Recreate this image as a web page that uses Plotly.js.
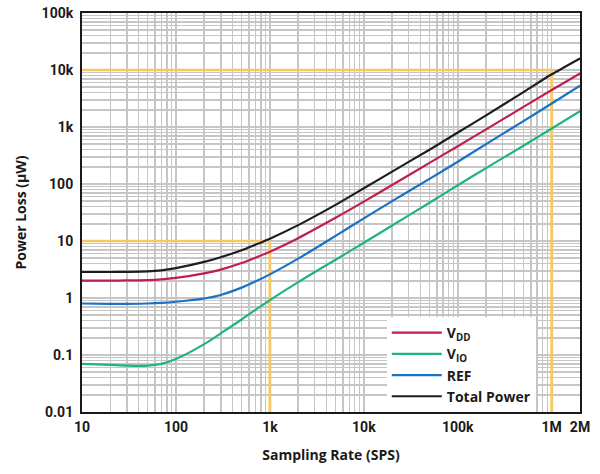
<!DOCTYPE html>
<html>
<head>
<meta charset="utf-8">
<script src="https://cdn.plot.ly/plotly-3.0.1.min.js"></script>
<style>
  html, body { margin: 0; padding: 0; background: #fff; }
  #chart { width: 600px; height: 474px; }
</style>
</head>
<body>
<div id="chart"></div>
<script>
// ------------------------------
// Sampling rates (SPS) and power loss (uW)
// ------------------------------
var rate = [10, 20, 30, 50, 70, 100, 200, 300, 500, 700, 1e3, 2e3, 5e3, 1e4, 2e4, 5e4, 1e5, 2e5, 5e5, 1e6, 2e6];

var vdd = [2.02, 2.02, 2.03, 2.06, 2.12, 2.25, 2.7, 3.15, 4.1, 5.1, 6.5, 11.2, 25.5, 49, 96, 235, 460, 910, 2250, 4450, 8700];
var vio = [0.070, 0.067, 0.065, 0.065, 0.070, 0.085, 0.155, 0.24, 0.42, 0.62, 0.92, 1.9, 4.7, 9.3, 18.7, 47, 95, 190, 470, 940, 1900];
var ref = [0.80, 0.79, 0.79, 0.80, 0.82, 0.86, 0.98, 1.13, 1.52, 1.94, 2.6, 4.9, 12.3, 25, 50, 123, 246, 500, 1270, 2580, 5300];
var total = [2.86, 2.86, 2.87, 2.92, 3.05, 3.35, 4.3, 5.2, 6.9, 8.6, 11, 19, 43, 84, 165, 400, 800, 1600, 4100, 8400, 16000];

// tick labels
var xTickVals = [10, 100, 1e3, 1e4, 1e5, 1e6, 2e6];
var xTickText = ['10', '100', '1k', '10k', '100k', '1M', '2M'];
var yTickVals = [0.01, 0.1, 1, 10, 100, 1e3, 1e4, 1e5];
var yTickText = ['0.01', '0.1', '1', '10', '100', '1k', '10k', '100k'];

// highlighted operating points (orange guide lines)
var markRate = [1e3, 1e6];
var markPower = [10, 1e4];

// ------------------------------
// minor grid positions (2..9 in each decade)
// ------------------------------
function minorVals(lo, hi) {
  var out = [];
  for (var d = lo; d < hi; d++) {
    for (var k = 2; k <= 9; k++) out.push(k * Math.pow(10, d));
  }
  return out;
}

var gridCol = '#c6c6c6';
var tickFont = { family: 'Roboto, sans-serif', size: 14, color: '#1a1a1a', weight: 'bold' };
var titleFont = { family: '"Open Sans", sans-serif', size: 14, color: '#1a1a1a', weight: 'bold' };

function line(name, y, color) {
  return {
    x: rate, y: y, name: name, type: 'scatter', mode: 'lines',
    line: { color: color, width: 2.2, shape: 'spline', smoothing: 0.8 }
  };
}

var data = [
  line('V<sub>DD</sub>', vdd, '#be1f4c'),
  line('V<sub>IO</sub>', vio, '#1fb57a'),
  line('REF', ref, '#1a72c2'),
  line('Total Power', total, '#1c1c24')
];

// guide lines built from the marked points
var shapes = [];
var orange = '#f6c85f';
for (var i = 0; i < markRate.length; i++) {
  shapes.push({ type: 'line', xref: 'x', yref: 'y', layer: 'between',
    x0: 10, x1: markRate[i], y0: markPower[i], y1: markPower[i],
    line: { color: orange, width: 2.5 } });
  shapes.push({ type: 'line', xref: 'x', yref: 'y', layer: 'between',
    x0: markRate[i], x1: markRate[i], y0: 0.01, y1: markPower[i],
    line: { color: orange, width: 2.8 } });
}

var layout = {
  width: 600, height: 474,
  margin: { l: 82, r: 20, t: 13, b: 62 },
  paper_bgcolor: '#fff', plot_bgcolor: '#fff',
  font: tickFont,
  showlegend: true,
  legend: {
    x: 0.612, y: 0.238, xanchor: 'left', yanchor: 'top',
    bgcolor: '#fff', borderwidth: 0,
    font: titleFont,
    itemwidth: 50, tracegroupgap: 0
  },
  xaxis: {
    type: 'log', range: [1, Math.log10(2e6)],
    tickmode: 'array', tickvals: xTickVals, ticktext: xTickText,
    ticks: '', ticklabelstandoff: 1, tickfont: tickFont,
    showgrid: true, gridcolor: gridCol, gridwidth: 1.5,
    minor: { tickmode: 'array', tickvals: minorVals(1, 7), showgrid: true, gridcolor: gridCol, gridwidth: 1.5, ticks: '' },
    showline: true, linecolor: '#1a1a1a', linewidth: 2, mirror: true,
    zeroline: false,
    title: { text: 'Sampling Rate (SPS)', font: titleFont, standoff: 16 }
  },
  yaxis: {
    type: 'log', range: [-2, 5],
    tickmode: 'array', tickvals: yTickVals, ticktext: yTickText,
    ticks: '', ticklabelstandoff: 4, tickfont: tickFont,
    showgrid: true, gridcolor: gridCol, gridwidth: 1.5,
    minor: { tickmode: 'array', tickvals: minorVals(-2, 5), showgrid: true, gridcolor: gridCol, gridwidth: 1.5, ticks: '' },
    showline: true, linecolor: '#1a1a1a', linewidth: 2, mirror: true,
    zeroline: false,
    title: { text: 'Power Loss (μW)', font: titleFont, standoff: 12 }
  },
  shapes: shapes
};

Plotly.newPlot('chart', data, layout, { displayModeBar: false, staticPlot: true });
</script>
</body>
</html>
